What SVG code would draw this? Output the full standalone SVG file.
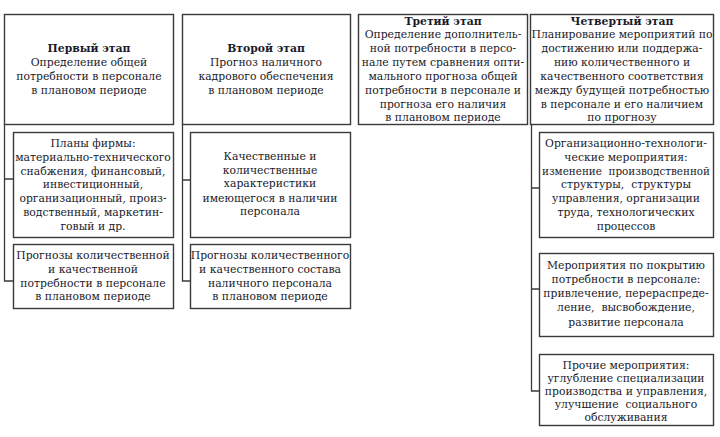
<svg xmlns="http://www.w3.org/2000/svg" width="720" height="437" viewBox="0 0 720 437">
<style>
rect{fill:#fff;stroke:#3a3a3a;stroke-width:1.4}
text{font-family:"DejaVu Serif","Liberation Serif",serif;font-size:10.8px;fill:#1a1a2a;text-anchor:middle}
.b{font-weight:bold}
.p{white-space:pre}
#connectors path{fill:none;stroke:#3a3a3a;stroke-width:1.3}
</style>
<rect x="0" y="0" width="720" height="437" style="fill:#fff;stroke:none"/>
<g id="connectors">
<path d="M4.5 124V281H13M4.5 179H13"/>
<path d="M182.5 124V281H190M182.5 180H190"/>
<path d="M531.5 124V391H539M531.5 188H539M531.5 289H539"/>
</g>
<g id="stage1">
<rect x="4.5" y="14.5" width="169" height="110"/>
<text x="89" y="52" class="b">Первый этап</text>
<text x="89" y="66">Определение общей</text>
<text x="89" y="80">потребности в персонале</text>
<text x="89" y="94">в плановом периоде</text>
</g>
<g id="stage2">
<rect x="182.5" y="14.5" width="168" height="110"/>
<text x="266" y="52" class="b">Второй этап</text>
<text x="266" y="66">Прогноз наличного</text>
<text x="266" y="80">кадрового обеспечения</text>
<text x="266" y="94">в плановом периоде</text>
</g>
<g id="stage3">
<rect x="358.5" y="14.5" width="169" height="110"/>
<text x="443" y="25" class="b">Третий этап</text>
<text x="443" y="38">Определение дополнитель-</text>
<text x="443" y="52">ной потребности в персо-</text>
<text x="443" y="66">нале путем сравнения опти-</text>
<text x="443" y="80">мального прогноза общей</text>
<text x="443" y="94">потребности в персонале и</text>
<text x="443" y="108">прогноза его наличия</text>
<text x="443" y="121">в плановом периоде</text>
</g>
<g id="stage4">
<rect x="530.5" y="14.5" width="183" height="110"/>
<text x="622" y="25" class="b">Четвертый этап</text>
<text x="622" y="38">Планирование мероприятий по</text>
<text x="622" y="52">достижению или поддержа-</text>
<text x="622" y="66">нию количественного и</text>
<text x="622" y="80">качественного соответствия</text>
<text x="622" y="94">между будущей потребностью</text>
<text x="622" y="108">в персонале и его наличием</text>
<text x="622" y="121">по прогнозу</text>
</g>
<g id="plans">
<rect x="13.5" y="132.5" width="160" height="105"/>
<text x="93" y="147">Планы фирмы:</text>
<text x="93" y="161">материально-технического</text>
<text x="93" y="175">снабжения, финансовый,</text>
<text x="93" y="188">инвестиционный,</text>
<text x="93" y="202">организационный, произ-</text>
<text x="93" y="216">водственный, маркетин-</text>
<text x="93" y="230">говый и др.</text>
</g>
<g id="forecast1">
<rect x="13.5" y="244.5" width="160" height="64"/>
<text x="93" y="259">Прогнозы количественной</text>
<text x="93" y="273">и качественной</text>
<text x="93" y="287">потребности в персонале</text>
<text x="93" y="300">в плановом периоде</text>
</g>
<g id="characteristics">
<rect x="190.5" y="132.5" width="160" height="105"/>
<text x="270" y="160">Качественные и</text>
<text x="270" y="174">количественные</text>
<text x="270" y="187">характеристики</text>
<text x="270" y="202">имеющегося в наличии</text>
<text x="270" y="215">персонала</text>
</g>
<g id="forecast2">
<rect x="190.5" y="244.5" width="160" height="64"/>
<text x="270" y="259">Прогнозы количественного</text>
<text x="270" y="273">и качественного состава</text>
<text x="270" y="287">наличного персонала</text>
<text x="270" y="300">в плановом периоде</text>
</g>
<g id="orgtech">
<rect x="539.5" y="132.5" width="174" height="105"/>
<text x="626" y="147">Организационно-технологи-</text>
<text x="626" y="161">ческие мероприятия:</text>
<text x="626" y="175" class="p" textLength="168" lengthAdjust="spacingAndGlyphs">изменение  производственной</text>
<text x="626" y="188" class="p">структуры,  структуры</text>
<text x="626" y="202">управления, организации</text>
<text x="626" y="216">труда, технологических</text>
<text x="626" y="230">процессов</text>
</g>
<g id="coverage">
<rect x="539.5" y="253.5" width="174" height="83"/>
<text x="626" y="269">Мероприятия по покрытию</text>
<text x="626" y="283">потребности в персонале:</text>
<text x="626" y="297">привлечение, перераспреде-</text>
<text x="626" y="311" class="p">ление,  высвобождение,</text>
<text x="626" y="326">развитие персонала</text>
</g>
<g id="other">
<rect x="539.5" y="354.5" width="174" height="71"/>
<text x="626" y="369">Прочие мероприятия:</text>
<text x="626" y="382">углубление специализации</text>
<text x="626" y="395">производства и управления,</text>
<text x="626" y="408" class="p">улучшение  социального</text>
<text x="626" y="421">обслуживания</text>
</g>
</svg>
